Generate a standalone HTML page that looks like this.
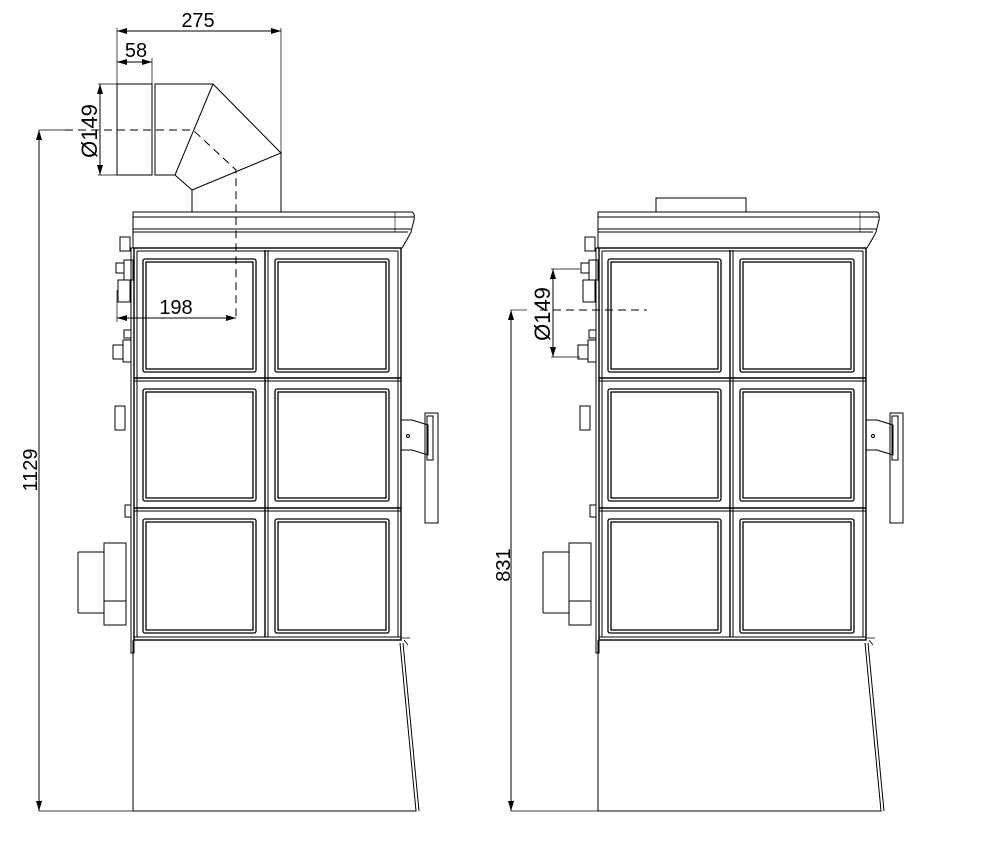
<!DOCTYPE html>
<html><head><style>
html,body{margin:0;padding:0;background:#fff;}
svg{display:block;}
text{font-family:"Liberation Sans",sans-serif;font-size:20px;fill:#000;}
</style></head><body>
<svg width="1005" height="854" viewBox="0 0 1005 854" xmlns="http://www.w3.org/2000/svg">
<defs>
<marker id="a" viewBox="0 0 10 6" refX="10" refY="3" markerWidth="10" markerHeight="6" orient="auto-start-reverse" markerUnits="userSpaceOnUse"><path d="M0,0 L10,3 L0,6 z" fill="#000"/></marker>
<g id="stove" fill="none" stroke="#000" stroke-width="1">
  <path d="M133,212 H412 Q415,213 414,220 L411,232 Q407,240 402,248 H133 Z"/>
  <line x1="133" y1="217" x2="414" y2="217"/>
  <line x1="133" y1="229" x2="411" y2="229"/>
  <line x1="133" y1="232" x2="408" y2="232"/>
  <line x1="395" y1="212" x2="395" y2="232" stroke-width="0.6"/>
  <rect x="131" y="248" width="3" height="405"/>
  <rect x="134" y="248" width="267" height="392" stroke-width="1.4"/>
  <line x1="137" y1="251" x2="398" y2="251"/>
  <line x1="137" y1="251" x2="137" y2="637"/>
  <line x1="398" y1="251" x2="398" y2="637"/>
  <line x1="265" y1="250" x2="265" y2="637" stroke-width="1.4"/>
  <line x1="268" y1="250" x2="268" y2="637"/>
  <line x1="134" y1="378" x2="401" y2="378" stroke-width="1.4"/>
  <line x1="134" y1="381" x2="401" y2="381"/>
  <line x1="134" y1="508" x2="401" y2="508" stroke-width="1.4"/>
  <line x1="134" y1="511" x2="401" y2="511"/>
  <line x1="134" y1="637" x2="401" y2="637"/>
  <g stroke-width="1.3">
    <rect x="143" y="259" width="113" height="113" rx="2"/><rect x="146" y="262" width="107" height="107"/>
    <rect x="275" y="259" width="114" height="113" rx="2"/><rect x="278" y="262" width="108" height="107"/>
    <rect x="143" y="389" width="113" height="112" rx="2"/><rect x="146" y="392" width="107" height="106"/>
    <rect x="275" y="389" width="114" height="112" rx="2"/><rect x="278" y="392" width="108" height="106"/>
    <rect x="143" y="519" width="113" height="114" rx="2"/><rect x="146" y="522" width="107" height="108"/>
    <rect x="275" y="519" width="114" height="114" rx="2"/><rect x="278" y="522" width="108" height="108"/>
  </g>
  <path d="M133,640 V811 H416 L400,643"/>
  <line x1="403" y1="643" x2="419" y2="811"/>
  <path d="M402,638 l8,0 M404,640 l4,5" stroke-width="0.8"/>
  <rect x="120" y="237" width="10" height="14"/>
  <rect x="116" y="263" width="8" height="10"/>
  <rect x="124" y="260" width="9" height="20"/>
  <rect x="118" y="280" width="12" height="22"/>
  <rect x="124" y="330" width="7" height="8"/>
  <rect x="113" y="345" width="10" height="14"/>
  <rect x="123" y="340" width="8" height="22"/>
  <rect x="115" y="406" width="10" height="24"/>
  <rect x="125" y="505" width="6" height="12"/>
  <rect x="78" y="552" width="26" height="61" rx="1"/>
  <rect x="104" y="543" width="22" height="82"/>
  <line x1="104" y1="601" x2="126" y2="601"/>
  <path d="M401,420 L412,420 L428,425 L428,455 L412,450 L401,450"/>
  <circle cx="408" cy="436" r="1.5"/>
  <rect x="425" y="413" width="13" height="110"/>
  <rect x="427" y="416" width="6" height="44"/>
</g>
</defs>

<use href="#stove"/>
<use href="#stove" transform="translate(465,0)"/>

<g fill="none" stroke="#000" stroke-width="1">
  <rect x="117" y="84" width="35" height="91"/>
  <line x1="152" y1="84" x2="152" y2="175"/>
  <path d="M155,84 H213 L281,153 L192,190 L175,175 H155 Z"/>
  <line x1="155" y1="84" x2="155" y2="175"/>
  <line x1="213" y1="84" x2="175" y2="175"/>
  <line x1="192" y1="190" x2="192" y2="212"/>
  <line x1="281" y1="153" x2="281" y2="212"/>
  <path d="M65,130 H193 L236,170 V318" stroke-dasharray="8,5"/>
  <line x1="117" y1="28" x2="117" y2="84" stroke-width="0.7"/>
  <line x1="281" y1="28" x2="281" y2="153" stroke-width="0.7"/>
  <line x1="117" y1="31" x2="281" y2="31" marker-start="url(#a)" marker-end="url(#a)"/>
  <line x1="152" y1="58" x2="152" y2="84" stroke-width="0.7"/>
  <line x1="117" y1="62" x2="152" y2="62" marker-start="url(#a)" marker-end="url(#a)"/>
  <line x1="98" y1="84" x2="117" y2="84" stroke-width="0.7"/>
  <line x1="98" y1="175" x2="117" y2="175" stroke-width="0.7"/>
  <line x1="100" y1="84" x2="100" y2="175" marker-start="url(#a)" marker-end="url(#a)"/>
  <line x1="117" y1="290" x2="117" y2="322" stroke-width="0.7"/>
  <line x1="117" y1="318" x2="236" y2="318" marker-start="url(#a)" marker-end="url(#a)"/>
  <line x1="39" y1="130" x2="39" y2="811" marker-start="url(#a)" marker-end="url(#a)"/>
  <line x1="39" y1="811" x2="133" y2="811" stroke-width="0.7"/>
  <line x1="39" y1="130" x2="65" y2="130" stroke-width="0.7"/>
  <rect x="656" y="198" width="90" height="14"/>
  <line x1="511" y1="310" x2="511" y2="811" marker-start="url(#a)" marker-end="url(#a)"/>
  <line x1="511" y1="310" x2="527" y2="310" stroke-width="0.7"/>
  <line x1="511" y1="811" x2="598" y2="811" stroke-width="0.7"/>
  <line x1="553" y1="269" x2="553" y2="357" marker-start="url(#a)" marker-end="url(#a)"/>
  <line x1="551" y1="269" x2="580" y2="269" stroke-width="0.7"/>
  <line x1="551" y1="357" x2="580" y2="357" stroke-width="0.7"/>
  <line x1="540" y1="310" x2="647" y2="310" stroke-dasharray="8,5"/>
</g>

<text x="198" y="27" text-anchor="middle">275</text>
<text x="136" y="57" text-anchor="middle">58</text>
<text x="176" y="314" text-anchor="middle">198</text>
<text transform="translate(97,131) rotate(-90)" text-anchor="middle" style="font-size:22px">Ø149</text>
<text transform="translate(37,470) rotate(-90)" text-anchor="middle">1129</text>
<text transform="translate(550,314) rotate(-90)" text-anchor="middle" style="font-size:22px">Ø149</text>
<text transform="translate(510,565) rotate(-90)" text-anchor="middle">831</text>
</svg>
</body></html>
